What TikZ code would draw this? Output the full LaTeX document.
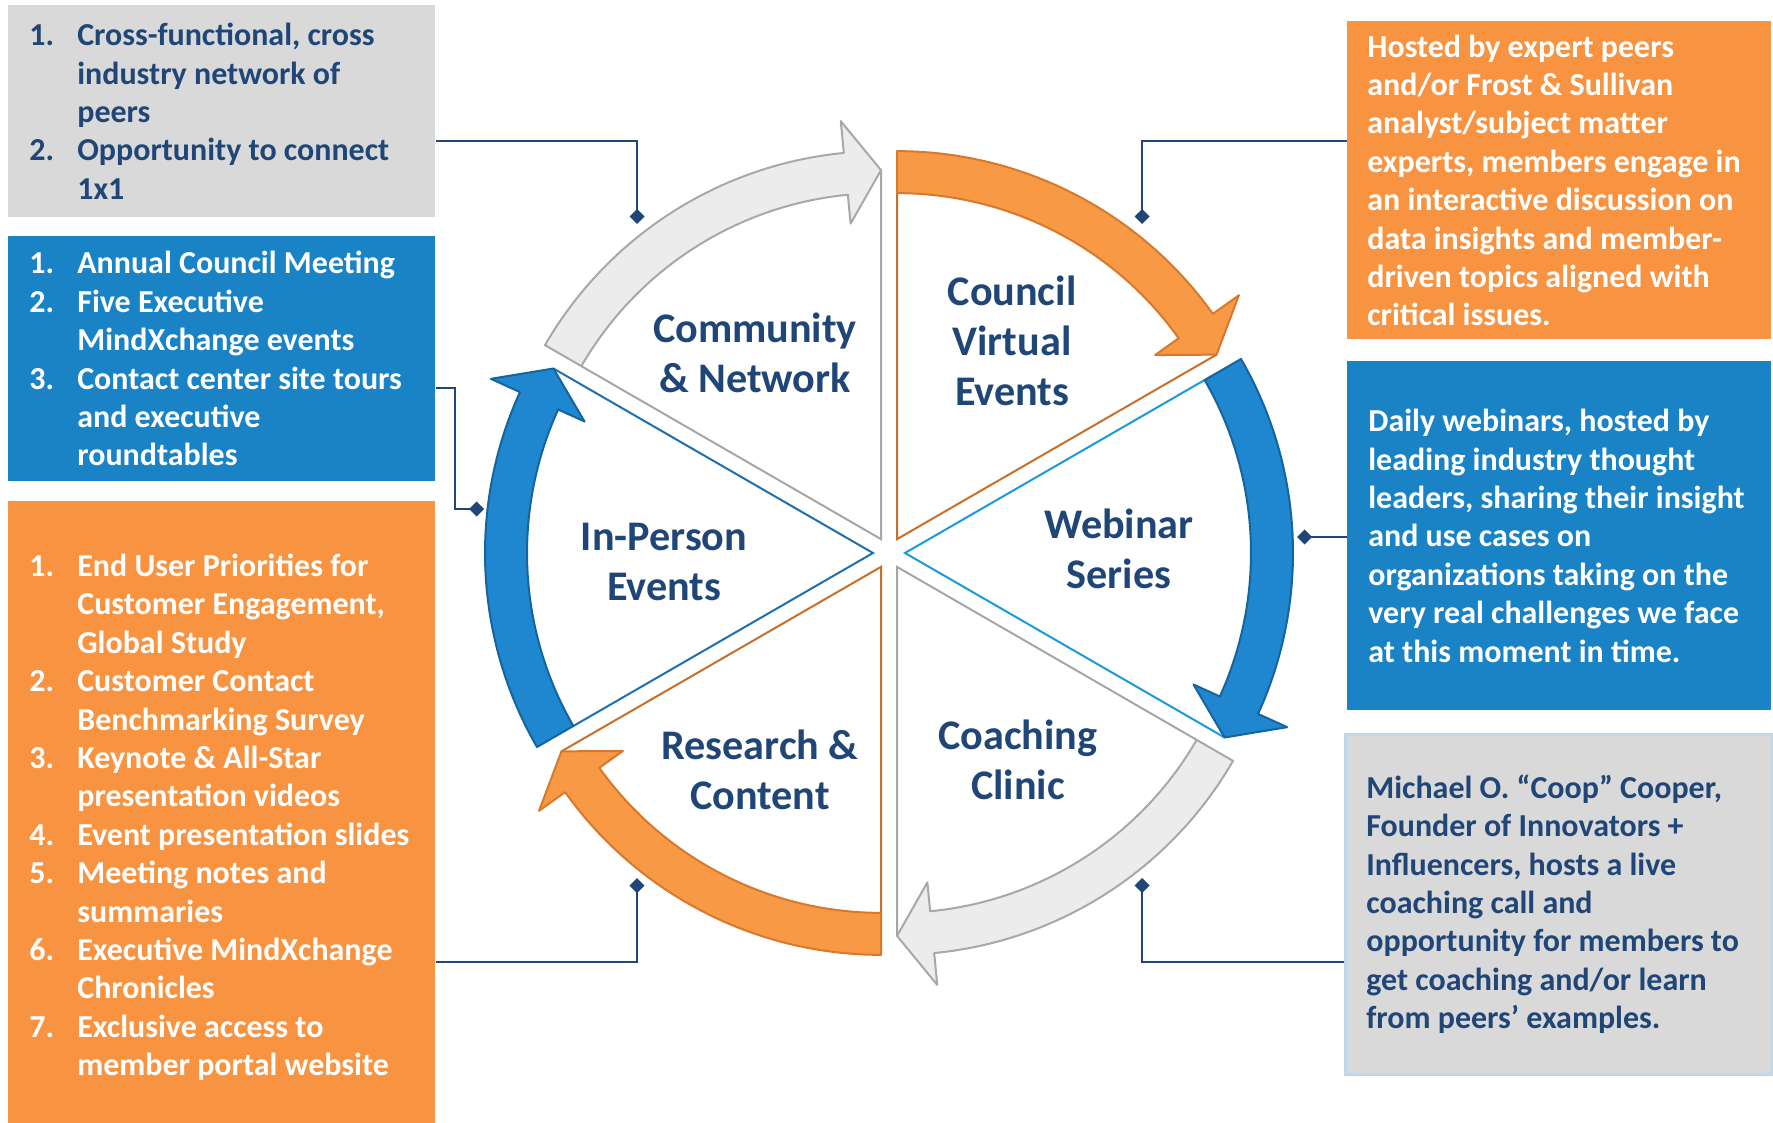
\documentclass[tikz,border=0pt]{standalone}
\usepackage{fontspec}
\setmainfont{Carlito}
\usetikzlibrary{calc,arrows.meta}

\definecolor{navy}{HTML}{1F4677}
\definecolor{boxgray}{HTML}{D9D9D9}
\definecolor{boxblue}{HTML}{1983C6}
\definecolor{boxorange}{HTML}{F79341}
\definecolor{edgeblue}{HTML}{BDD7EE}
\definecolor{arrgray}{HTML}{ECECEC}
\definecolor{arrgrayd}{HTML}{A8A8A8}
\definecolor{arrorange}{HTML}{F89A45}
\definecolor{arroranged}{HTML}{D7782C}
\definecolor{arrblue}{HTML}{1F87CF}
\definecolor{arrblued}{HTML}{15649C}
\definecolor{rimgray}{HTML}{A6A6A6}
\definecolor{rimorange}{HTML}{C8702A}
\definecolor{rimcyan}{HTML}{1A9AD6}
\definecolor{rimblue}{HTML}{1F6FAE}

\newlength\nogap
\setlength\nogap{9.6mm}
\newcommand\itemno[1]{\makebox[\nogap][l]{#1}}
\newcommand\cont{\hspace*{\nogap}}

\begin{document}
\begin{tikzpicture}[x=0.2mm, y=0.2mm,
  panel/.style 2 args={rectangle, inner sep=0pt, anchor=north west,
    minimum width=#1*0.2mm, minimum height=#2*0.2mm},
  paneltext/.style={anchor=west, align=left, inner sep=0pt,
    font=\bfseries\fontsize{18.2}{21.85}\selectfont},
  sector/.style={align=center, inner sep=0pt, text=navy,
    font=\bfseries\fontsize{24}{28.3}\selectfont},
  link/.style={navy, line width=0.4mm, -{Diamond[length=3mm, width=3mm]}}]
  \useasboundingbox (0,0) rectangle (1773,-1123);

  % Left panels
  \node[panel={427}{212}, fill=boxgray] (peers) at (8,-5) {};
  \node[paneltext, text=navy] (peerstxt) at ([xshift=4.2mm]peers.west)
    {\itemno{1.}Cross-functional, cross\\ \cont industry network of\\ \cont peers\\
     \itemno{2.}Opportunity to connect\\ \cont 1x1};

  \node[panel={427}{245}, fill=boxblue] (meetings) at (8,-236) {};
  \node[paneltext, text=white] (meetingstxt) at ([xshift=4.2mm]meetings.west)
    {\itemno{1.}Annual Council Meeting\\
     \itemno{2.}Five Executive\\ \cont MindXchange events\\
     \itemno{3.}Contact center site tours\\ \cont and executive\\ \cont roundtables};

  \node[panel={427}{622}, fill=boxorange] (library) at (8,-501) {};
  \node[paneltext, text=white] (librarytxt) at ([xshift=4.2mm, yshift=-1mm]library.west)
    {\itemno{1.}End User Priorities for\\ \cont Customer Engagement,\\ \cont Global Study\\
     \itemno{2.}Customer Contact\\ \cont Benchmarking Survey\\
     \itemno{3.}Keynote \& All-Star\\ \cont presentation videos\\
     \itemno{4.}Event presentation slides\\
     \itemno{5.}Meeting notes and\\ \cont summaries\\
     \itemno{6.}Executive MindXchange\\ \cont Chronicles\\
     \itemno{7.}Exclusive access to\\ \cont member portal website};

  % Right panels
  \node[panel={424}{318}, fill=boxorange] (hosted) at (1347,-21) {};
  \node[paneltext, text=white] (hostedtxt) at ([xshift=4mm]hosted.west)
    {Hosted by expert peers\\and/or Frost \& Sullivan\\analyst/subject matter\\
     experts, members engage in\\an interactive discussion on\\
     data insights and member-\\driven topics aligned with\\critical issues.};

  \node[panel={424}{349}, fill=boxblue] (webinars) at (1347,-361) {};
  \node[paneltext, text=white] (webinarstxt) at ([xshift=4.2mm]webinars.west)
    {Daily webinars, hosted by\\leading industry thought\\leaders, sharing their insight\\
     and use cases on\\organizations taking on the\\very real challenges we face\\
     at this moment in time.};

  \node[panel={427}{340}, fill=boxgray, draw=edgeblue, line width=0.5mm] (coach) at (1344,-733) {};
  \node[paneltext, text=navy] (coachtxt) at ([xshift=4.4mm]coach.west)
    {Michael O. “Coop” Cooper,\\Founder of Innovators +\\Influencers, hosts a live\\
     coaching call and\\opportunity for members to\\get coaching and/or learn\\
     from peers’ examples.};

  % Wheel: six exploded sectors with curved arrows
  \coordinate (hub) at (889,-553);
  \foreach \m/\af/\ad/\lc in {120/arrgray/arrgrayd/rimgray, 60/arrorange/arroranged/rimorange,
      0/arrblue/arrblued/rimcyan, -60/arrgray/arrgrayd/rimgray,
      -120/arrorange/arroranged/rimorange, 180/arrblue/arrblued/rimblue} {
    \begin{scope}[shift={($(hub)+(\m:16)$)}]
      \pgfmathsetmacro\at{\m+30}
      \pgfmathsetmacro\ah{\m-30}
      \pgfmathsetmacro\hb{\m-24.5}
      \draw[\lc, line width=0.4mm] (\at:346) -- (0,0) -- (\ah:369);
      \filldraw[fill=\af, draw=\ad, line width=0.4mm, line join=round]
        (\at:388) arc[start angle=\at, end angle=\hb, radius=388]
        -- (\hb:420) -- (\ah:369) -- (\hb:317) -- (\hb:346)
        arc[start angle=\hb, end angle=\at, radius=346] -- cycle;
    \end{scope}
  }

  % Sector labels
  \node[sector] (community) at (755,-353) {Community\\\& Network};
  \node[sector] (council) at (1012,-341) {Council\\Virtual\\Events};
  \node[sector] (webinar) at (1119,-549) {Webinar\\Series};
  \node[sector] (inperson) at (664,-562) {In-Person\\Events};
  \node[sector] (research) at (760,-770) {Research \&\\Content};
  \node[sector] (coaching) at (1018,-760) {Coaching\\Clinic};

  % Connectors
  \coordinate (k1) at (637,-141);
  \coordinate (d1) at (637,-224);
  \draw[link] (peers.east |- k1) -- (k1) -- (d1);
  \coordinate (k2) at (455,-388);
  \coordinate (d2) at (484,-509);
  \draw[link] (meetings.east |- k2) -- (k2) |- (d2);
  \coordinate (k3) at (637,-962);
  \coordinate (d3) at (637,-878);
  \draw[link] (library.east |- k3) -- (k3) -- (d3);
  \coordinate (k4) at (1142,-141);
  \coordinate (d4) at (1142,-224);
  \draw[link] (hosted.west |- k4) -- (k4) -- (d4);
  \coordinate (d5) at (1297,-537);
  \draw[link] (webinars.west |- d5) -- (d5);
  \coordinate (k6) at (1142,-962);
  \coordinate (d6) at (1142,-878);
  \draw[link] (coach.west |- k6) -- (k6) -- (d6);
\end{tikzpicture}
\end{document}
